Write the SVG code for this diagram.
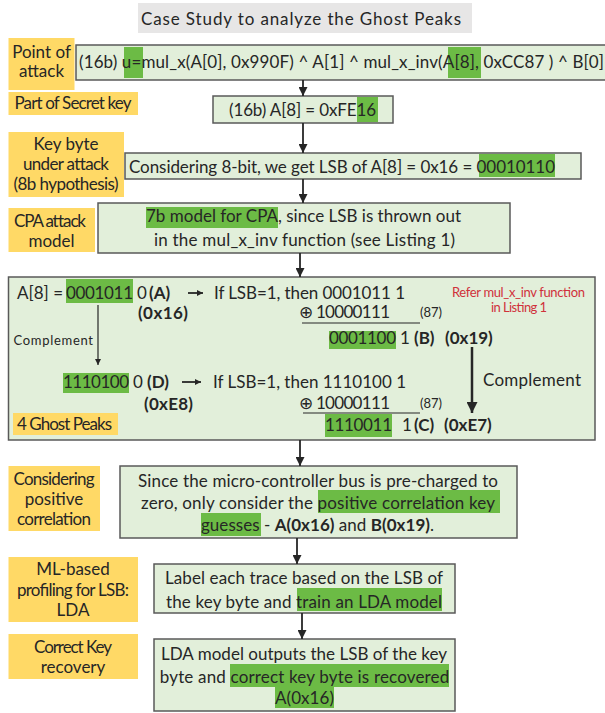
<svg xmlns="http://www.w3.org/2000/svg" width="605" height="713" viewBox="0 0 605 713">
<defs>
<style>
text{font-family:Lato,"Liberation Sans",sans-serif;fill:#262626;font-size:17px}
.box{fill:#E2EFDA;stroke:#595959;stroke-width:1.5}
.lab{fill:#FFD966}
.hl{fill:#6CBB45}
.c{text-anchor:middle}
.b{font-weight:bold}
.con{stroke:#262626;stroke-width:1.8;fill:none}
.red{fill:#D0313A;font-size:13px}
.sm{font-size:13px}
.ul{stroke:#262626;stroke-width:1.2}
</style>
<marker id="ah" viewBox="0 0 10 10" markerUnits="userSpaceOnUse" markerWidth="10" markerHeight="9" refX="10" refY="5" orient="auto"><path d="M0,0 L10,5 L0,10 z" fill="#262626"/></marker>
<marker id="ahs" viewBox="0 0 10 10" markerUnits="userSpaceOnUse" markerWidth="7" markerHeight="6" refX="10" refY="5" orient="auto"><path d="M0,0 L10,5 L0,10 z" fill="#262626"/></marker>
<marker id="ahb" viewBox="0 0 10 10" markerUnits="userSpaceOnUse" markerWidth="13" markerHeight="11" refX="10" refY="5" orient="auto"><path d="M0,0 L10,5 L0,10 z" fill="#262626"/></marker>
</defs>
<rect width="605" height="713" fill="#fff"/>

<g id="title">
<rect x="138" y="3" width="334" height="30" fill="#E7E6E6"/>
<text class="c" x="301" y="25" font-size="20" textLength="320">Case Study to analyze the Ghost Peaks</text>
</g>

<g id="label-point">
<rect class="lab" x="8.5" y="38" width="66" height="52"/>
<text class="c" x="41.5" y="58">Point of</text>
<text class="c" x="41.5" y="77">attack</text>
</g>
<g id="label-secret">
<rect class="lab" x="8.5" y="92" width="129.5" height="23"/>
<text class="c" x="73" y="109" textLength="117">Part of Secret key</text>
</g>
<g id="label-keybyte">
<rect class="lab" x="8.5" y="132" width="115.5" height="65"/>
<text class="c" x="66" y="150">Key byte</text>
<text class="c" x="66" y="170" textLength="86">under attack</text>
<text class="c" x="66" y="190" textLength="105">(8b hypothesis)</text>
</g>
<g id="label-cpa">
<rect class="lab" x="8.5" y="208" width="86.5" height="44"/>
<text class="c" x="50" y="227" textLength="72">CPA attack</text>
<text class="c" x="51.5" y="247">model</text>
</g>
<g id="label-positive">
<rect class="lab" x="8.5" y="466" width="91.5" height="65"/>
<text class="c" x="54" y="485" textLength="81">Considering</text>
<text class="c" x="54" y="505">positive</text>
<text class="c" x="54" y="525" textLength="74">correlation</text>
</g>
<g id="label-ml">
<rect class="lab" x="8.5" y="557" width="129.5" height="65"/>
<text class="c" x="73" y="575">ML-based</text>
<text class="c" x="73" y="596" textLength="112">profiling for LSB:</text>
<text class="c" x="73" y="616">LDA</text>
</g>
<g id="label-recovery">
<rect class="lab" x="8.5" y="634" width="129.5" height="45"/>
<text class="c" x="73" y="653" textLength="78">Correct Key</text>
<text class="c" x="73" y="673">recovery</text>
</g>

<g id="node-attack">
<rect class="box" x="76" y="45" width="535" height="35"/>
<rect class="hl" x="124" y="47" width="19" height="31"/>
<rect class="hl" x="448" y="47" width="33" height="31"/>
<text x="79" y="68" textLength="525">(16b) u=mul_x(A[0], 0x990F) ^ A[1] ^ mul_x_inv(A[8], 0xCC87 ) ^ B[0]</text>
</g>
<g id="node-secret">
<rect class="box" x="213" y="96" width="180" height="27"/>
<rect class="hl" x="357" y="97" width="21" height="25"/>
<text class="c" x="302.5" y="116" textLength="147">(16b) A[8] = 0xFE16</text>
</g>
<g id="node-keybyte">
<rect class="box" x="125" y="153" width="456" height="26"/>
<rect class="hl" x="479" y="154" width="76" height="23"/>
<text x="129" y="173" textLength="426">Considering 8-bit, we get LSB of A[8] = 0x16 = 00010110</text>
</g>
<g id="node-cpa">
<rect class="box" x="98" y="203" width="412" height="50"/>
<rect class="hl" x="146" y="207" width="132" height="21"/>
<text class="c" x="303.5" y="222" textLength="315">7b model for CPA, since LSB is thrown out</text>
<text class="c" x="304.5" y="246" textLength="301">in the mul_x_inv function (see Listing 1)</text>
</g>

<g id="node-ghost">
<rect class="box" x="8.5" y="277" width="586.5" height="163"/>
<rect class="hl" x="66" y="279" width="67" height="24"/>
<rect class="hl" x="329" y="331" width="67" height="18"/>
<rect class="hl" x="63" y="373" width="66" height="20"/>
<rect class="hl" x="325" y="414" width="67" height="23"/>
<text y="299"><tspan x="17">A[8] =</tspan><tspan x="66" textLength="67">0001011</tspan><tspan x="137">0</tspan><tspan x="149" class="b">(A)</tspan></text>
<text x="214" y="299" textLength="191">If LSB=1, then 0001011 1</text>
<text class="b" x="138" y="319" textLength="50">(0x16)</text>
<text x="299" y="318" textLength="91">⊕ 10000111</text>
<line class="ul" x1="302" y1="323" x2="420" y2="323"/>
<text class="sm" x="420" y="317">(87)</text>
<text y="344"><tspan x="329" textLength="67">0001100</tspan><tspan x="400">1</tspan><tspan x="414" class="b">(B)</tspan><tspan x="445" class="b">(0x19)</tspan></text>
<text class="red" x="452" y="297" textLength="133">Refer mul_x_inv function</text>
<text class="red" x="491" y="312" textLength="56">in Listing 1</text>
<text class="sm" x="13.5" y="345" textLength="79.5">Complement</text>
<text x="483" y="386" textLength="98">Complement</text>
<text y="388"><tspan x="63" textLength="66">1110100</tspan><tspan x="133">0</tspan><tspan x="147" class="b">(D)</tspan></text>
<text x="213" y="388" textLength="193">If LSB=1, then 1110100  1</text>
<text class="b" x="144" y="410" textLength="49">(0xE8)</text>
<text x="299" y="409" textLength="91">⊕ 10000111</text>
<line class="ul" x1="303" y1="413" x2="420" y2="413"/>
<text class="sm" x="420" y="408">(87)</text>
<rect class="lab" x="13" y="413" width="105" height="22"/>
<text x="17" y="430" textLength="95">4 Ghost Peaks</text>
<text y="431"><tspan x="325" textLength="67">1110011</tspan><tspan x="402">1</tspan><tspan x="414" class="b">(C)</tspan><tspan x="444" class="b">(0xE7)</tspan></text>
</g>

<g id="node-positive">
<rect class="box" x="120" y="466" width="397" height="72"/>
<rect class="hl" x="318" y="490" width="182" height="23"/>
<rect class="hl" x="201" y="513" width="60" height="23"/>
<text class="c" x="318" y="487" textLength="360">Since the micro-controller bus is pre-charged to</text>
<text class="c" x="318" y="509" textLength="354">zero, only consider the positive correlation key</text>
<text class="c" x="317.5" y="531" textLength="233">guesses - <tspan class="b">A(0x16)</tspan> and <tspan class="b">B(0x19)</tspan>.</text>
</g>
<g id="node-lda-train">
<rect class="box" x="154" y="564" width="301" height="49"/>
<rect class="hl" x="297" y="588" width="145" height="23"/>
<text class="c" x="304" y="584" textLength="278">Label each trace based on the LSB of</text>
<text class="c" x="304" y="608" textLength="276">the key byte and train an LDA model</text>
</g>
<g id="node-recovery">
<rect class="box" x="154" y="639" width="301" height="72"/>
<rect class="hl" x="230" y="664" width="219" height="23"/>
<rect class="hl" x="275" y="687" width="59" height="21"/>
<text class="c" x="304" y="660" textLength="286">LDA model outputs the LSB of the key</text>
<text class="c" x="304.5" y="683" textLength="289.5">byte and correct key byte is recovered</text>
<text class="c" x="304.5" y="704" textLength="59">A(0x16)</text>
</g>

<g id="connectors">
<line class="con" x1="303" y1="80" x2="303" y2="96" marker-end="url(#ah)"/>
<line class="con" x1="303" y1="123" x2="303" y2="153" marker-end="url(#ah)"/>
<line class="con" x1="303" y1="179" x2="303" y2="203" marker-end="url(#ah)"/>
<line class="con" x1="300" y1="253" x2="300" y2="277" marker-end="url(#ah)"/>
<line class="con" x1="300" y1="440" x2="300" y2="466" marker-end="url(#ah)"/>
<line class="con" x1="297" y1="538" x2="297" y2="564" marker-end="url(#ah)"/>
<line class="con" x1="302" y1="613" x2="302" y2="639" marker-end="url(#ah)"/>
<line class="con" x1="188" y1="293" x2="203" y2="293" marker-end="url(#ahs)"/>
<line class="con" x1="182" y1="382" x2="201" y2="382" marker-end="url(#ahs)"/>
<line class="con" style="stroke-width:1.2" x1="98" y1="305" x2="98" y2="365" marker-end="url(#ahs)"/>
<line class="con" style="stroke-width:2.5" x1="472" y1="347" x2="472" y2="413" marker-end="url(#ahb)"/>
</g>
</svg>
